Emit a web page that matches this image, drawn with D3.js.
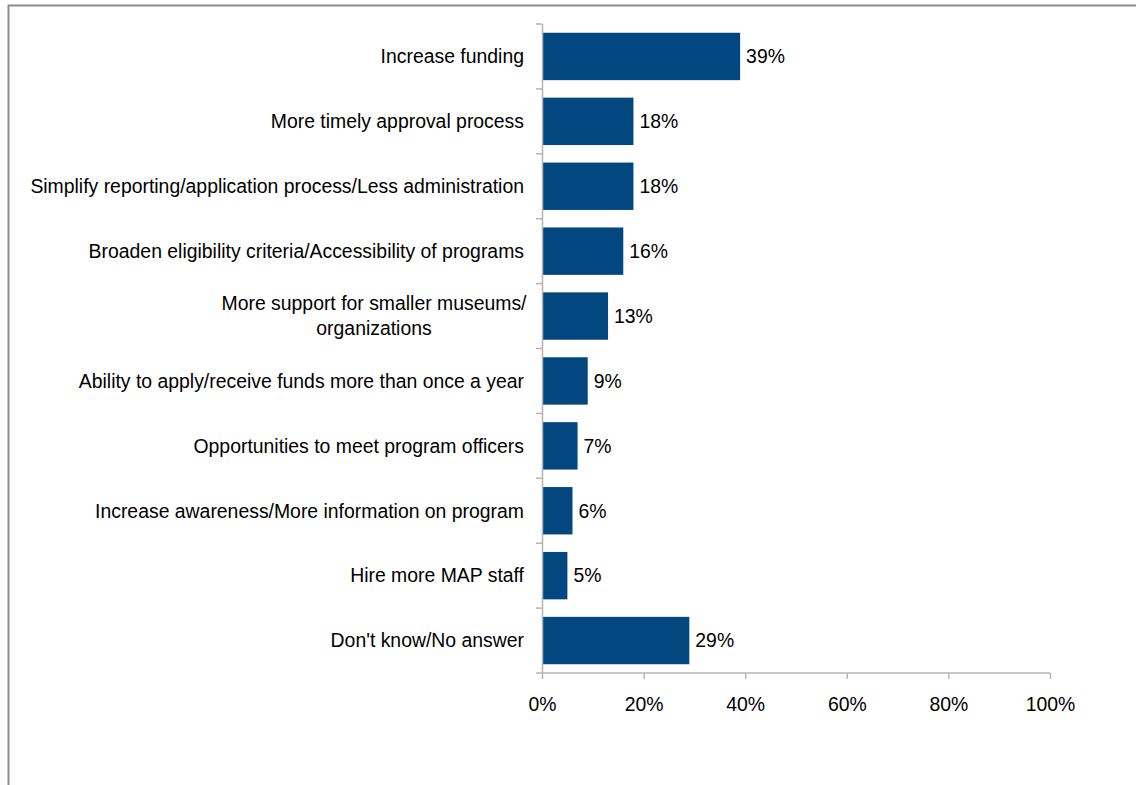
<!DOCTYPE html>
<html>
<head>
<meta charset="utf-8">
<script src="https://cdn.jsdelivr.net/npm/d3@7"></script>
<style>
	body { margin: 0; background: #fff; }
	svg text { font-family: "Liberation Sans", Arial, sans-serif; fill: #000; }
</style>
</head>
<body>
<script>
// reasons / suggestions, percent of respondents
const categories = [
	"Increase funding",
	"More timely approval process",
	"Simplify reporting/application process/Less administration",
	"Broaden eligibility criteria/Accessibility of programs",
	"More support for smaller museums/\norganizations",
	"Ability to apply/receive funds more than once a year",
	"Opportunities to meet program officers",
	"Increase awareness/More information on program",
	"Hire more MAP staff",
	"Don't know/No answer"
];
const values = [39, 18, 18, 16, 13, 9, 7, 6, 5, 29];
const xTicks = [0, 20, 40, 60, 80, 100];

const width = 1136,
	height = 785;
const margin = {top: 24, right: 86, bottom: 112, left: 542};
const AXIS = "#b4b4b4",
	BAR = "#02477f",
	FS = "19.4px";

let svg = d3.select("body").append("svg")
	.attr("width", width)
	.attr("height", height);

// outer frame, only top and left are visible in the original
svg.append("path")
	.attr("d", `M8.5,${height} V5.5 H${width}`)
	.attr("fill", "none")
	.attr("stroke", "#8c8c8c")
	.attr("stroke-width", 2);

let x = d3.scaleLinear().domain([0, 100]).range([margin.left, width - margin.right]);
let y = d3.scaleBand().domain(categories).range([margin.top, height - margin.bottom]).paddingInner(0.27).paddingOuter(0.135);
const y0 = height - margin.bottom;

// bars
svg.selectAll("rect.bar")
	.data(values)
	.join("rect")
	.attr("class", "bar")
	.attr("x", x(0))
	.attr("y", (d, i) => y(categories[i]))
	.attr("width", d => x(d) - x(0))
	.attr("height", y.bandwidth())
	.attr("fill", BAR);

// value labels
svg.selectAll("text.val")
	.data(values)
	.join("text")
	.attr("class", "val")
	.attr("x", d => x(d) + 6)
	.attr("y", (d, i) => y(categories[i]) + y.bandwidth()/2)
	.attr("dy", "0.35em")
	.style("font-size", FS)
	.text(d => d + "%");

// y axis: line + ticks at band edges
svg.append("line")
	.attr("x1", x(0) + 0.5).attr("x2", x(0) + 0.5)
	.attr("y1", margin.top).attr("y2", y0)
	.attr("stroke", AXIS).attr("stroke-width", 1.5);
d3.range(categories.length + 1).forEach(i => {
	const yy = margin.top + i*(y0 - margin.top)/categories.length;
	svg.append("line")
		.attr("x1", x(0) - 6).attr("x2", x(0))
		.attr("y1", yy).attr("y2", yy)
		.attr("stroke", AXIS).attr("stroke-width", 1.5);
});

// category labels
categories.forEach(c => {
	const lines = c.split("\n");
	const cy = y(c) + y.bandwidth()/2;
	const t = svg.append("text")
		.style("font-size", FS);
	if (lines.length == 1) {
		t.attr("x", x(0) - 18).attr("y", cy).attr("dy", "0.35em")
			.attr("text-anchor", "end").text(c);
	} else {
		t.attr("text-anchor", "middle");
		lines.forEach((l, j) => {
			t.append("tspan")
				.attr("x", 374)
				.attr("y", cy + (j - (lines.length - 1)/2)*25)
				.attr("dy", "0.35em")
				.text(l);
		});
	}
});

// x axis
let xAxis = d3.axisBottom(x)
	.tickValues(xTicks)
	.tickSize(6)
	.tickPadding(18.5)
	.tickFormat(d => d + "%");
let gx = svg.append("g")
	.attr("transform", `translate(0,${y0})`)
	.call(xAxis);
gx.select(".domain").remove();
gx.append("line")
	.attr("x1", x(0)).attr("x2", x(100))
	.attr("stroke", AXIS).attr("stroke-width", 1.5);
gx.selectAll(".tick line").attr("stroke", AXIS).attr("stroke-width", 1.5);
gx.selectAll(".tick text")
	.style("font-size", FS)
	.attr("fill", "#000")
	.style("font-family", "'Liberation Sans', Arial, sans-serif");
</script>
</body>
</html>
